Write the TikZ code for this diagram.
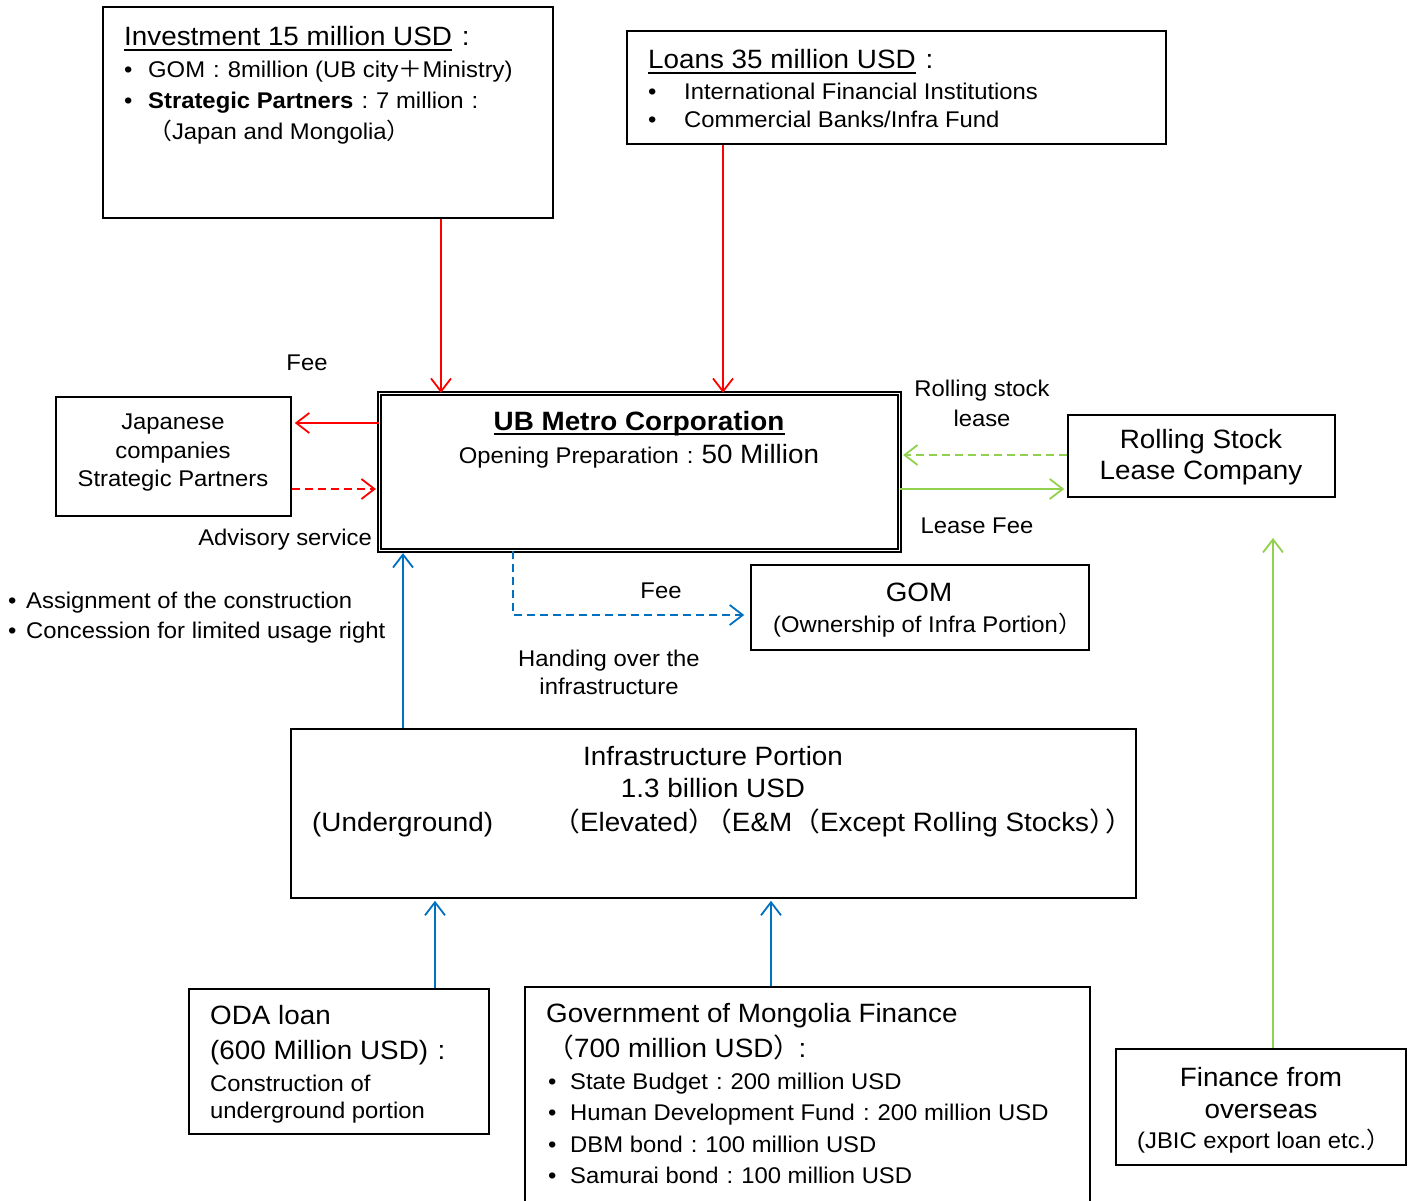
\documentclass[tikz,border=0pt]{standalone}
\usepackage{fontspec}
\setmainfont{Liberation Sans}[FakeStretch=1.05]
\newfontfamily\cjk{Noto Sans CJK JP}[FakeStretch=1.05]
\usetikzlibrary{arrows.meta}
\definecolor{flowred}{RGB}{255,0,0}
\definecolor{flowgreen}{RGB}{146,208,80}
\definecolor{flowblue}{RGB}{0,112,192}
% full-width punctuation
\newcommand\zcolon{\makebox[1em]{:}}
\newcommand\zplus{{\cjk ＋}}
\newcommand\zlp{{\cjk （}}
\newcommand\zrp{{\cjk ）}}
\newcommand\zsq{\hspace{-12pt}}
\newcommand\itm[1]{\makebox[#1][l]{•}}
\begin{document}
\begin{tikzpicture}[x=1pt,y=-1pt,
  box/.style={draw=black, line width=1.6pt, rectangle, inner sep=0pt},
  bigtxt/.style={font=\fontsize{26.5}{31}\selectfont, inner sep=0pt},
  smalltxt/.style={font=\fontsize{22.7}{28}\selectfont, inner sep=0pt},
  lw/.style={anchor=base west},
  lc/.style={anchor=base},
  flow/.style={line width=1.8pt, -{Straight Barb[length=13pt,width=20pt,line width=1.8pt]}},
  redflow/.style={flow, draw=flowred},
  greenflow/.style={flow, draw=flowgreen},
  blueflow/.style={flow, draw=flowblue},
  dashflow/.style={dash pattern=on 8pt off 5pt},
  uline/.style={line width=1.6pt}
]
\useasboundingbox (0,0) rectangle (1411,1201);

% ---------------- boxes ----------------
\node[box, minimum width=450, minimum height=211] (inv) at (328,112.5) {};
\node[box, minimum width=539, minimum height=113] (loans) at (896.5,87.5) {};
\node[rectangle, draw=black, line width=1.2pt, double=white, double distance=1.8pt,
      minimum width=520, minimum height=157] (ub) at (639.5,472) {};
\node[box, minimum width=235, minimum height=119] (jap) at (173.5,456.5) {};
\node[box, minimum width=267, minimum height=82] (roll) at (1201.5,456) {};
\node[box, minimum width=338, minimum height=85] (gom) at (920,607.5) {};
\node[box, minimum width=845, minimum height=169] (infra) at (713.5,813.5) {};
\node[box, minimum width=300, minimum height=145] (oda) at (339,1061.5) {};
\node[box, minimum width=565, minimum height=223] (gomf) at (807.5,1098.5) {};
\node[box, minimum width=290, minimum height=116] (ovs) at (1261,1107) {};

% ---------------- equity investment ----------------
\node[bigtxt, lw] (invtitle) at (124,46) {Investment 15 million USD};
\node[bigtxt, lw] (invcolon) at (invtitle.base east) {\zcolon};
\draw[uline] ([yshift=-4pt]invtitle.base west) -- ([yshift=-4pt]invtitle.base east);
\node[smalltxt, lw] (inv1) at (124,78) {\itm{24pt}GOM\zcolon 8million (UB city\zplus Ministry)};
\node[smalltxt, lw] (inv2) at (124,109) {\itm{24pt}\textbf{Strategic Partners}\zcolon 7 million\zcolon};
\node[smalltxt, lw] (inv3) at (148,140) {\zlp Japan and Mongolia\zrp};

% ---------------- loans ----------------
\node[bigtxt, lw] (lntitle) at (648,69) {Loans 35 million USD};
\node[bigtxt, lw] (lncolon) at (lntitle.base east) {\zcolon};
\draw[uline] ([yshift=-4pt]lntitle.base west) -- ([yshift=-4pt]lntitle.base east);
\node[smalltxt, lw] (ln1) at (648,100) {\itm{36pt}International Financial Institutions};
\node[smalltxt, lw] (ln2) at (648,128) {\itm{36pt}Commercial Banks/Infra Fund};

% ---------------- UB Metro Corporation ----------------
\node[bigtxt, lc, font=\fontsize{26.5}{31}\selectfont\bfseries] (ubtitle) at (639,430) {UB Metro Corporation};
\draw[uline] ([yshift=-4pt]ubtitle.base west) -- ([yshift=-4pt]ubtitle.base east);
\node[smalltxt, lc] (ubsub) at (639,463) {Opening Preparation\zcolon{\fontsize{26.5}{31}\selectfont 50 Million}};

% ---------------- partner boxes ----------------
\node[smalltxt, align=center, anchor=center, font=\fontsize{22.7}{28.5}\selectfont] (japtxt) at (173,453) {Japanese\\companies\\Strategic Partners};
\node[bigtxt, align=center, anchor=center] (rolltxt) at (1201,457) {Rolling Stock\\Lease Company};
\node[bigtxt, lc] (gomtxt) at (919,601.5) {GOM};
\node[smalltxt, lw] (gomsub) at (773,632) {(Ownership of Infra Portion\zrp};

% ---------------- infrastructure ----------------
\node[bigtxt, lc] (inf1) at (713,765.5) {Infrastructure Portion};
\node[bigtxt, lc] (inf2) at (713,797.5) {1.3 billion USD};
\node[bigtxt, lw] (inf3) at (312,831.5) {(Underground)};
\node[bigtxt, lw] (inf4) at (552,831.5) {\zlp Elevated\zrp\zsq\zlp E\&M\zlp Except Rolling Stocks\zrp\zsq\zrp};

% ---------------- funding sources ----------------
\node[bigtxt, lw] (oda1) at (210,1024.5) {ODA loan};
\node[bigtxt, lw] (oda2) at (210,1059.5) {(600 Million USD)\zcolon};
\node[smalltxt, lw] (oda3) at (210,1091) {Construction of};
\node[smalltxt, lw] (oda4) at (210,1118) {underground portion};

\node[bigtxt, lw] (gf1) at (546,1022.5) {Government of Mongolia Finance};
\node[bigtxt, lw] (gf2) at (546,1057.5) {\zlp 700 million USD\zrp\zsq\zcolon};
\node[smalltxt, lw] (gf3) at (548,1089) {\itm{22pt}State Budget\zcolon 200 million USD};
\node[smalltxt, lw] (gf4) at (548,1120) {\itm{22pt}Human Development Fund\zcolon 200 million USD};
\node[smalltxt, lw] (gf5) at (548,1152) {\itm{22pt}DBM bond\zcolon 100 million USD};
\node[smalltxt, lw] (gf6) at (548,1183) {\itm{22pt}Samurai bond\zcolon 100 million USD};

\node[bigtxt, lc] (ov1) at (1261,1086.5) {Finance from};
\node[bigtxt, lc] (ov2) at (1261,1118.5) {overseas};
\node[smalltxt, lw] (ov3) at (1137,1148) {(JBIC export loan etc.\zrp};

% ---------------- flow labels ----------------
\node[smalltxt, lc] (lfee) at (307,370) {Fee};
\node[smalltxt, anchor=base east] (ladv) at (372,545) {Advisory service};
\node[smalltxt, lc] (lrs1) at (982,396) {Rolling stock};
\node[smalltxt, lc] (lrs2) at (982,426) {lease};
\node[smalltxt, lc] (llease) at (977,533) {Lease Fee};
\node[smalltxt, lc] (lfee2) at (661,598) {Fee};
\node[smalltxt, lc] (lhand1) at (609,666) {Handing over the};
\node[smalltxt, lc] (lhand2) at (609,694) {infrastructure};
\node[smalltxt, lw] (lasg) at (8,608) {\itm{18pt}Assignment of the construction};
\node[smalltxt, lw] (lcon) at (8,638) {\itm{18pt}Concession for limited usage right};

% ---------------- connectors ----------------
\draw[redflow] (441,0 |- inv.south) -- (441,0 |- ub.north);
\draw[redflow] (723,0 |- loans.south) -- (723,0 |- ub.north);
\draw[redflow, shorten >=3pt] (ub.west |- 0,423) -- (jap.east |- 0,423);
\draw[redflow, dashflow, shorten >=3pt] (jap.east |- 0,489) -- (ub.west |- 0,489);

\draw[greenflow, dashflow, shorten >=3pt] (roll.west |- 0,455) -- (ub.east |- 0,455);
\draw[greenflow, shorten >=3pt] (ub.east |- 0,489) -- (roll.west |- 0,489);
\coordinate (ovsend) at (1273,538);
\draw[greenflow] (ovs.north -| ovsend) -- (ovsend);

\draw[blueflow, shorten >=2pt] (403,0 |- infra.north) -- (403,0 |- ub.south);
\draw[blueflow, dashflow, shorten >=6pt] (513,0 |- ub.south) -- (513,615) -- (gom.west |- 0,615);
\draw[blueflow, shorten >=2pt] (435,0 |- oda.north) -- (435,0 |- infra.south);
\draw[blueflow, shorten >=2pt] (771,0 |- gomf.north) -- (771,0 |- infra.south);
\end{tikzpicture}
\end{document}
